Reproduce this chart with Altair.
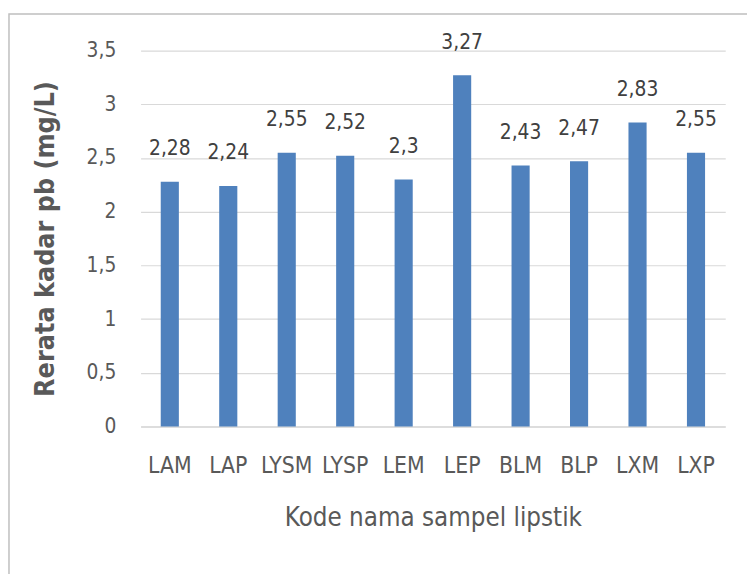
import altair as alt
import pandas as pd

codes = ["LAM", "LAP", "LYSM", "LYSP", "LEM", "LEP", "BLM", "BLP", "LXM", "LXP"]
values = [2.28, 2.24, 2.55, 2.52, 2.3, 3.27, 2.43, 2.47, 2.83, 2.55]
y_ticks = [0, 0.5, 1, 1.5, 2, 2.5, 3, 3.5]

df = pd.DataFrame({"code": codes, "v": values})
FONT = "Liberation Sans Narrow, DejaVu Sans Condensed, sans-serif"
TXT = "#595959"

base = alt.Chart(df).transform_calculate(
    lbl="replace(toString(datum.v), '.', ',')"
)

x = alt.X("code:N", sort=codes, title="Kode nama sampel lipstik",
          scale=alt.Scale(paddingInner=0.69, paddingOuter=0.345),
          axis=alt.Axis(labelAngle=0, labelFontSize=23, labelColor=TXT, labelFont=FONT,
                        labelPadding=28, ticks=False, domainColor="#D9D9D9", domainWidth=1.5,
                        titleFontSize=26, titleColor=TXT, titleFont=FONT, titleFontWeight="normal",
                        titlePadding=28))
y = alt.Y("v:Q", title="Rerata kadar pb (mg/L)",
          scale=alt.Scale(domain=[0, 3.5], nice=False),
          axis=alt.Axis(values=y_ticks, labelExpr="replace(toString(datum.value), '.', ',')",
                        labelFontSize=21, labelColor=TXT, labelFont=FONT, labelPadding=25,
                        ticks=False, domain=False, gridColor="#D9D9D9", gridWidth=1.2,
                        titleFontSize=27, titleColor=TXT, titleFont=FONT, titleFontWeight="bold",
                        titlePadding=27))

bars = base.mark_bar(color="#4F81BD").encode(x=x, y=y)
labels = base.mark_text(baseline="bottom", dy=-23, fontSize=21, color="#404040", font=FONT).encode(
    x=alt.X("code:N", sort=codes), y="v:Q", text="lbl:N")

border = alt.Chart(pd.DataFrame({"a": [0]})).mark_rect(
    fill=None, stroke="#BFBFBF", strokeWidth=1.5, clip=False
).encode(x=alt.value(-133), x2=alt.value(640), y=alt.value(-37), y2=alt.value(560))

chart = alt.layer(border, bars, labels).properties(
    width=591, height=380,
    padding={"left": 134, "top": 40, "right": 22, "bottom": 146},
    autosize=alt.AutoSizeParams(type="none"),
).configure_view(stroke=None)

chart.save("out.html", embed_options={"renderer": "svg", "actions": False})
